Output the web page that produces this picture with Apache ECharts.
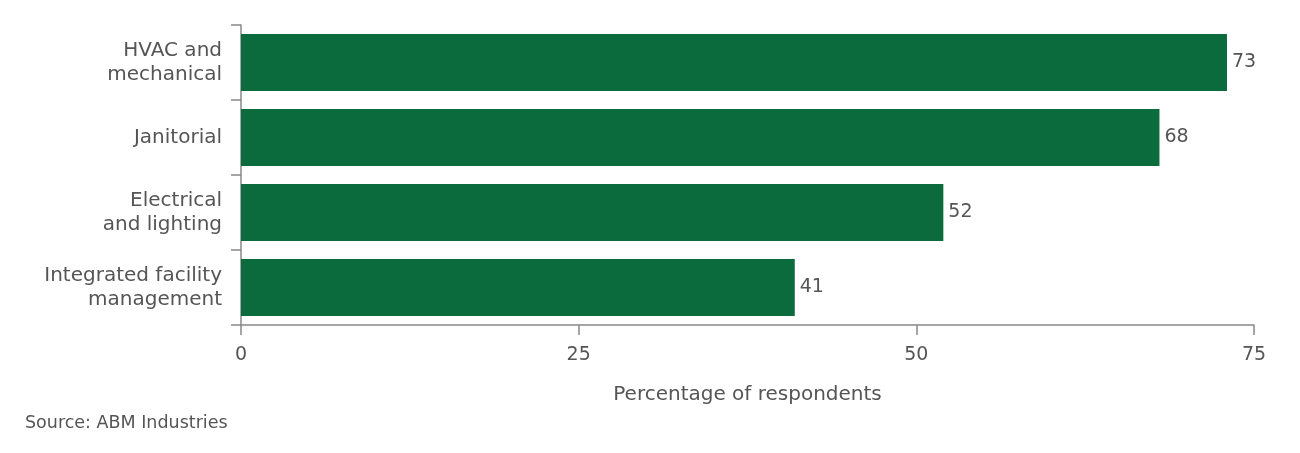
<!DOCTYPE html>
<html><head><meta charset="utf-8">
<script src="https://cdn.jsdelivr.net/npm/echarts@6/dist/echarts.min.js"></script>
<style>html,body{margin:0;padding:0;background:#fff}#c{width:1300px;height:453px}</style>
</head><body><div id="c"></div>
<script>
const categories = ["HVAC and\nmechanical", "Janitorial", "Electrical\nand lighting", "Integrated facility\nmanagement"];
const values = [73, 68, 52, 41];
const xTicks = [0, 25, 50, 75];
const axisTitle = "Percentage of respondents";
const source = "Source: ABM Industries";

const chart = echarts.init(document.getElementById('c'));
const font = '"DejaVu Sans", "Open Sans", sans-serif';
chart.setOption({
  animation: false,
  textStyle: { fontFamily: font },
  grid: { left: 241, right: 46, top: 25, bottom: 128, containLabel: false },
  graphic: [{ type: 'text', left: 25, top: 414, style: { text: source, fontSize: 17.5, fill: '#555', fontFamily: font } }],
  xAxis: {
    type: 'value', min: xTicks[0], max: xTicks[xTicks.length - 1], interval: 25,
    name: axisTitle, nameLocation: 'middle', nameGap: 60,
    nameTextStyle: { fontSize: 20, color: '#555', fontFamily: font },
    axisLine: { show: true, lineStyle: { color: '#888', width: 1.5 } },
    axisTick: { show: true, length: 10, lineStyle: { color: '#888', width: 1.5 } },
    axisLabel: { fontSize: 19, color: '#555', margin: 21, fontFamily: font },
    splitLine: { show: false }
  },
  yAxis: {
    type: 'category', data: categories, inverse: true,
    axisLine: { show: true, lineStyle: { color: '#888', width: 1.5 } },
    axisTick: { show: true, length: 10, alignWithLabel: false, lineStyle: { color: '#888', width: 1.5 } },
    axisLabel: { fontSize: 20, color: '#555', margin: 19, lineHeight: 24, align: 'right', fontFamily: font }
  },
  series: [{
    type: 'bar', data: values, barWidth: 57,
    itemStyle: { color: '#0b6b3d' },
    label: { show: true, position: 'right', distance: 5, fontSize: 19, color: '#555', fontFamily: font }
  }]
});
</script></body></html>
